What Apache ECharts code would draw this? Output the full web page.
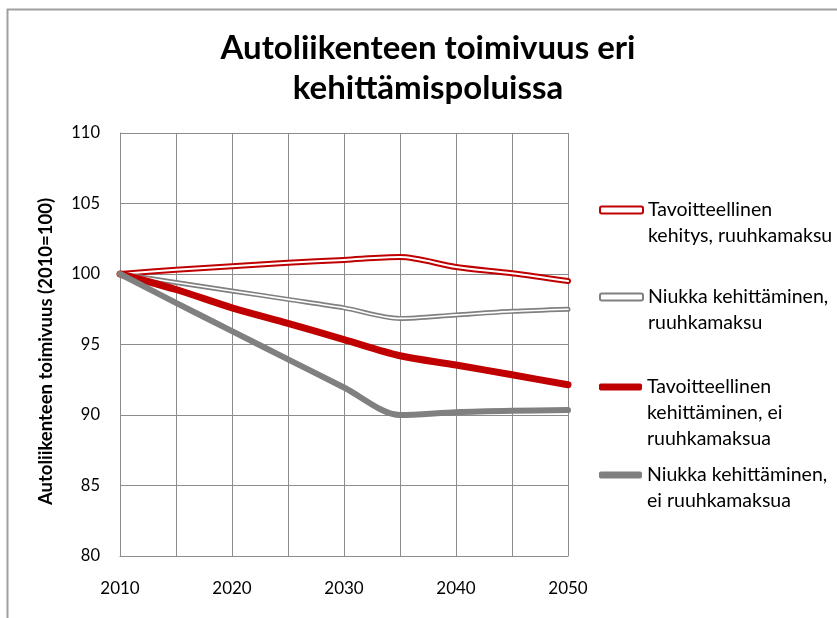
<!DOCTYPE html>
<html>
<head>
<meta charset="utf-8">
<script src="https://cdn.jsdelivr.net/npm/echarts@6/dist/echarts.min.js"></script>
<style>
html, body { margin: 0; padding: 0; background: #fff; }
#chart { width: 837px; height: 618px; }
</style>
</head>
<body>
<div id="chart"></div>
<script>
// vuodet (5 vuoden välein)
const years = [2010, 2015, 2020, 2025, 2030, 2035, 2040, 2045, 2050]
const seriesNames = [
  'Tavoitteellinen kehitys, ruuhkamaksu',
  'Niukka kehittäminen, ruuhkamaksu',
  'Tavoitteellinen kehittäminen, ei ruuhkamaksua',
  'Niukka kehittäminen, ei ruuhkamaksua'
]
const legendLines = [
  ['Tavoitteellinen', 'kehitys, ruuhkamaksu'],
  ['Niukka kehittäminen,', 'ruuhkamaksu'],
  ['Tavoitteellinen', 'kehittäminen, ei', 'ruuhkamaksua'],
  ['Niukka kehittäminen,', 'ei ruuhkamaksua']
]
const tavoiteMaksu = [100, 100.3, 100.55, 100.8, 101.0, 101.2, 100.5, 100.05, 99.5]
const niukkaMaksu = [100, 99.4, 98.8, 98.2, 97.6, 96.85, 97.1, 97.35, 97.5]
const tavoiteEiMaksu = [100, 98.9, 97.6, 96.5, 95.35, 94.2, 93.55, 92.85, 92.15]
const niukkaEiMaksu = [100, 97.95, 95.95, 93.95, 91.95, 90.0, 90.2, 90.3, 90.35]

const RED = '#C00000'
const GREY = '#808080'
const FONT = 'Lato'

const pairs = arr => years.map((y, i) => [y, arr[i]])

function lineSeries(name, data, color, width, z) {
  return {
    name: name,
    type: 'line',
    data: pairs(data),
    smooth: 0.3,
    symbol: 'none',
    z: z,
    lineStyle: { color: color, width: width, cap: 'round', join: 'round' },
    itemStyle: { color: color },
    emphasis: { disabled: true }
  }
}

// legendat erikseen, jotta ikoni on ensimmäisen rivin kohdalla
const legendTops = [210, 297, 387, 475]
const LH = 26
const legendIcons = [
  { icon: 'roundRect', itemStyle: { color: '#fff', borderColor: RED, borderWidth: 2 } },
  { icon: 'roundRect', itemStyle: { color: '#fff', borderColor: GREY, borderWidth: 2 } },
  { icon: 'roundRect', itemStyle: { color: RED } },
  { icon: 'roundRect', itemStyle: { color: GREY } }
]
const legends = seriesNames.map((name, i) => {
  const n = legendLines[i].length
  // tyhjät rivit eteen -> ensimmäinen rivi ikonin kohdalle
  const text = '\n'.repeat(n - 1) + legendLines[i].join('\n')
  return {
    show: true,
    orient: 'vertical',
    left: 599,
    top: legendTops[i] - (2 * n - 1) * LH / 2,
    padding: 0,
    itemWidth: 43,
    itemHeight: 7,
    itemGap: 0,
    selectedMode: false,
    data: [Object.assign({ name: name }, legendIcons[i])],
    formatter: () => text,
    textStyle: {
      fontFamily: FONT,
      fontSize: 19.5,
      color: '#000',
      lineHeight: LH
    }
  }
})

const chart = echarts.init(document.getElementById('chart'))
const option = {
  backgroundColor: '#fff',
  animation: false,
  title: {
    text: 'Autoliikenteen toimivuus eri\nkehittämispoluissa',
    left: 428,
    top: 28,
    padding: 0,
    textAlign: 'center',
    textStyle: {
      fontFamily: FONT,
      fontSize: 33,
      fontWeight: 'bold',
      color: '#000',
      lineHeight: 40
    }
  },
  graphic: [
    {
      type: 'polyline',
      shape: { points: [[7.5, 640], [7.5, 9.5], [860, 9.5]] },
      style: { stroke: '#a0a0a0', lineWidth: 2, fill: null },
      silent: true
    }
  ],
  legend: legends,
  grid: { left: 120, right: 269, top: 133, bottom: 62 },
  xAxis: {
    type: 'value',
    min: 2010,
    max: 2050,
    interval: 5,
    axisLine: { show: true, lineStyle: { color: '#8c8c8c', width: 1 } },
    axisTick: { show: false },
    axisLabel: {
      margin: 24,
      fontFamily: FONT,
      fontSize: 17,
      color: '#000',
      formatter: v => (v % 10 === 0 ? String(v) : '')
    },
    splitLine: { show: true, lineStyle: { color: '#8c8c8c', width: 1 } }
  },
  yAxis: {
    type: 'value',
    min: 80,
    max: 110,
    interval: 5,
    name: 'Autoliikenteen toimivuus (2010=100)',
    nameLocation: 'middle',
    nameGap: 64,
    nameTextStyle: {
      fontFamily: FONT,
      fontSize: 18.5,
      fontWeight: 'bold',
      color: '#000',
      padding: [0, 14, 0, 0]
    },
    axisLine: { show: true, lineStyle: { color: '#8c8c8c', width: 1 } },
    axisTick: { show: false },
    axisLabel: {
      margin: 20,
      fontFamily: FONT,
      fontSize: 16.5,
      color: '#000'
    },
    splitLine: { show: true, lineStyle: { color: '#8c8c8c', width: 1 } }
  },
  series: [
    lineSeries(seriesNames[0], tavoiteMaksu, RED, 6, 2),
    lineSeries('_sisä1', tavoiteMaksu, '#fff', 2, 3),
    lineSeries(seriesNames[1], niukkaMaksu, GREY, 5, 4),
    lineSeries('_sisä2', niukkaMaksu, '#fff', 1.6, 5),
    lineSeries(seriesNames[2], tavoiteEiMaksu, RED, 7, 6),
    lineSeries(seriesNames[3], niukkaEiMaksu, GREY, 6, 7)
  ]
}
chart.setOption(option)
window.addEventListener('resize', () => {
  chart.resize()
})
</script>
</body>
</html>
